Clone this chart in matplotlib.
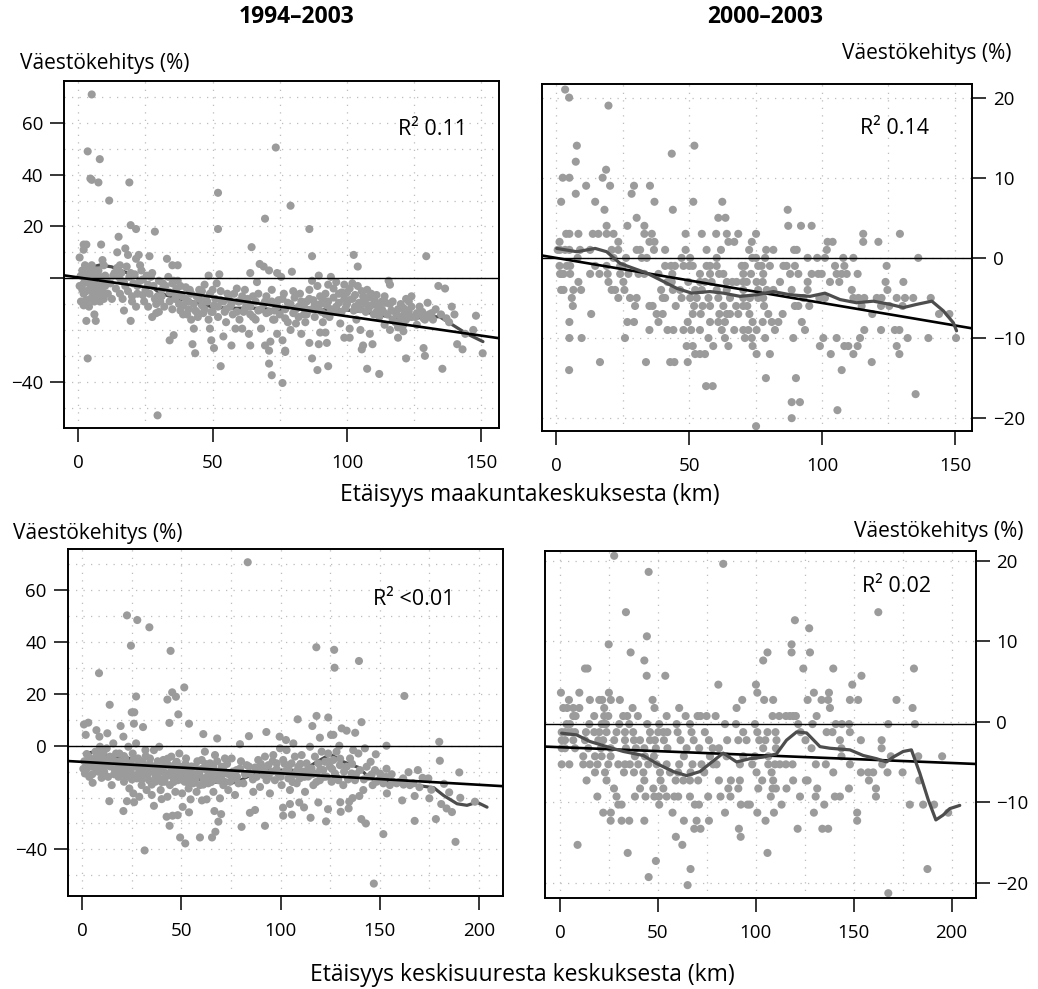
import numpy as np
import matplotlib
matplotlib.use("Agg")
import matplotlib.pyplot as plt

plt.rcParams['font.family'] = ['Open Sans', 'DejaVu Sans']

# ---------------- DATA ----------------
titles = ["1994–2003", "2000–2003"]
ylabel = "Väestökehitys (%)"
xlabel_top = "Etäisyys maakuntakeskuksesta (km)"
xlabel_bottom = "Etäisyys keskisuuresta keskuksesta (km)"
r2_labels = ["R² 0.11", "R² 0.14", "R² <0.01", "R² 0.02"]

# Panel 1: distance to regional centre vs. population change 1994-2003
p1_points = [
    (5, 71), (3.5, 49), (8, 46), (4.5, 38.5), (5, 38), (7.5, 37), (11.5, 30), (19, 37),
    (19.5, 20.5), (21.5, 19), (28.5, 18), (15, 16), (52, 33), (52, 19), (73.5, 50.5),
    (69.5, 23), (79, 28), (86, 19), (87, 8.5), (64.5, 12), (102.5, 9), (104, 4.5),
    (129.5, 8.5), (2, 13), (3, 13), (2, 11), (8.5, 13), (0.5, 8), (14.5, 10), (17.5, 11.5),
    (18.5, 9), (22.5, 9), (21.5, 7.5), (26.5, 8.5), (9, 7), (9.5, 5), (33, 7.5), (35, 5),
    (37, 5), (15.5, 5), (3.5, -31), (3, -16.5), (6.5, -16.5), (6, -14), (17, -12.5),
    (19.5, -16.5), (29.5, -53), (53, -34), (71, -33), (72, -37.5), (76, -40.5), (77, -28.5),
    (87, -31), (89, -35.5), (93, -34), (107.5, -35), (112, -37), (122, -31), (135.5, -35),
    (150.5, -29), (143, -27.5), (141, -25.5), (148, -14.5), (139, -11), (128.5, -27),
    (129, -30), (106, -26), (105.5, -27.5), (109.5, -25.5), (99, -23), (101, -23),
    (92.5, -25), (89.5, -25.5), (86, -25), (43.5, -29), (42.5, -25.5), (49.5, -24),
    (50.5, -27), (34, -24), (35.5, -22), (64, -26), (69.5, -26), (71, -28), (77, -28),
    (90, -21), (92, -21), (121, -20.5), (119, -23),
    (1, -9), (1.5, -4.5), (2, -6), (2.5, -0.5), (3, 2.5), (3.5, 0.5), (4, -2), (4, 4),
    (4.5, 2), (5, 5), (5.5, -3), (5.5, -6), (6, -9), (7, 0.5), (7.5, -6), (8, -3),
    (8.5, -6.5), (2.5, -9), (2, -10.5), (3, -8.5), (4.5, -8), (6, -4.5), (6.5, 3),
    (7.5, 1), (9.5, -2), (10, -3), (10.5, -0.5),
    (13, 1), (14.5, 4), (15, 0.5), (16, 2), (16.5, -8), (17, -1.5), (18, 4.5), (19, 0.5),
    (20, -7), (20.5, -2), (21, 1.5), (21.5, -11), (22, -3), (23, 5), (23.5, 3), (24, -0.5),
    (24, -6.5), (25, -4.5), (26, -11), (26, -2.5), (27, 0.5), (27.5, 2), (28.5, -8),
    (27.5, -15), (29, -13.5), (30, -13), (31, -4.5), (31.5, -2), (29.5, -7), (30.5, -9),
    (33.5, 0.5), (34, -5.5), (35, -2), (35.5, -1), (36, -8), (36.5, -4), (37, -1),
    (38, -12.5), (38.5, -7), (39, -10.5), (40, -3.5), (40.5, -14), (41, -9), (41.5, -4.5),
    (42, -16), (43, -19.5), (43.5, -12.5), (44, -7), (44.5, -15), (45, -4.5), (46, -10.5),
    (46.5, -13.5), (47, -2.5), (47.5, -8.5), (48.5, -16), (49, -19.5), (49.5, -13),
    (48.5, 1), (50, -4.5), (50.5, -10.5), (51.5, -2), (52, -15), (52.5, 1.5), (53, -8.5),
    (54, -22.5), (54.5, -13), (55, -17), (55.5, -6), (56.5, -11), (57, -26), (57.5, -14),
    (58.5, -19.5), (59, -4), (59.5, -9), (60, -16), (61, -19.5), (61.5, -13), (62, -4.5),
    (62.5, -10.5), (63.5, -21.5), (64, -14), (64, 2), (65, -7), (66, -16), (66.5, -1.5),
    (67, -12.5), (67.5, 5.5), (68, -19.5), (69, 4.5), (69.5, -9), (70, -13.5), (71, 3),
    (71.5, -24.5), (72, -4.5), (72.5, -16), (73, -12.5), (74, -21.5), (74, 2), (74.5, -8.5),
    (75.5, 0.5), (76, -24), (76.5, -6), (77, -15.5), (78, -9.5), (79, -20), (79.5, 2.5),
    (80, -13.5), (80.5, -7.5), (81, -17.5), (82, -11), (82.5, -6), (83, -21.5), (84, -14),
    (84.5, -17), (85, -9), (85.5, -12.5), (86, -4.5), (87, -1), (87.5, -8.5), (88, -15),
    (89, -3), (89.5, 1), (90, -7), (90.5, -13), (91, -17), (92, -6), (92.5, -10.5),
    (93, -2.5), (93.5, -15), (94, 0.5), (95, -7.5), (95.5, -13), (96, -1.5), (97, -9.5),
    (97.5, -17.5), (98, -5.5), (99, -2.5), (99.5, -11.5),
    (100, -5.5), (100.5, -8.5), (101, -19.5), (102, -2), (102.5, -12.5), (103, -6.5),
    (103.5, -16), (104.5, -9.5), (105, -20), (105.5, -5), (106, -9), (107, -13),
    (107.5, -4.5), (108, -7.5), (108.5, -21.5), (109, -10.5), (110, -14), (110.5, -9),
    (111, -6.5), (111.5, -11), (112, -15), (113, -9), (113.5, -13), (114, -18),
    (114.5, -9.5), (115.5, -1), (116, -2.5), (116, -20), (116.5, -12.5), (117, -16),
    (118, -13), (118.5, -14), (119, -19), (119.5, -17.5), (120, -15), (121, -11.5),
    (121.5, -13.5), (122, -16), (122.5, -12.5), (123, -9), (124, -7), (124, -11),
    (125.5, -15), (126, -13.5), (127, -14), (128.5, -15.5), (130, -9.5), (130.5, -14),
    (131.5, -13.5), (132, -16), (134, -3), (136.5, -4), (137, -15.5), (140, -14),
    (144, -21.5), (147, -20),
    # denser core of the cloud
    (0.5, -3), (1, 1), (1.5, 3), (2, -2), (2.5, 5), (3, -5), (3.5, 3), (4, -11), (4.5, -4),
    (5, 0), (5.5, 2), (6, -1), (6.5, -7), (7, -3), (7.5, 3), (8, -9), (8.5, 0), (9, -5),
    (9.5, -8), (10, 1), (11, -6), (12, -2), (12.5, -8), (13.5, 2), (14, -4), (15.5, -6),
    (16, -1), (17.5, -3), (18.5, -5), (19.5, 2), (20, -9), (22, -6), (23, -1), (24.5, -9),
    (25.5, 1), (26.5, -6), (28, -3), (29, -10), (30, -1), (31, -7), (32, -11), (32.5, -3),
    (34, -9), (35, -12), (36, -6), (37.5, -10), (38, -3), (39, -14), (40, -8), (41, -12),
    (42, -6), (43, -10), (44, -13), (45, -8), (46, -5), (47, -12), (48, -9), (49, -6),
    (50, -13), (51, -8), (52, -11), (53, -5), (54, -9), (55, -12), (56, -8), (57, -10),
    (58, -6), (59, -13), (60, -9), (61, -7), (62, -12), (63, -8), (64, -11), (65, -15),
    (66, -9), (67, -6), (68, -12), (69, -10), (70, -7), (71, -13), (72, -9), (73, -16),
    (74, -11), (75, -14), (76, -8), (77, -12), (78, -17), (79, -10), (80, -5), (81, -12),
    (82, -15), (83, -9), (84, -11), (85, -14), (86, -8), (87, -12), (88, -10), (89, -11),
    (90, -10), (91, -8), (92, -14), (93, -9), (94, -12), (95, -4), (96, -11), (97, -6),
    (98, -13), (99, -8), (100, -10), (101, -4), (102, -8), (103, -11), (104, -3), (105, -12),
    (106, -7), (107, -10), (108, -12), (109, -6), (110, -8), (111, -13), (112, -10),
    (113, -12), (114, -7), (115, -14), (116, -10), (117, -9), (118, -17), (119, -12),
    (120, -10), (121, -18), (122, -8), (123, -13), (124, -15), (126, -18), (127, -11),
    (128, -13), (129, -16), (131, -15), (133, -12), (135, -14), (138, -17),
]
p1_loess_x = [0, 4, 8, 12.4, 18.6, 24.8, 30.4, 36.6, 42.8, 49.6, 55.2, 61.4, 67.6, 73.8, 80,
              86.2, 93, 99.8, 106, 112.2, 118.4, 124.6, 130.8, 134.5, 139.4, 144.3, 150.6]
p1_loess_y = [1.0, 4.0, 5.1, 4.4, 1.9, -1.3, -5.8, -7.8, -9.1, -11, -11.6, -11.6, -11.6, -12.3,
              -11, -11.6, -12.3, -12.3, -12.9, -14.2, -15.5, -15.5, -14.9, -14.9, -18.1, -21.3,
              -24.5]
p1_fit = (0.3, -0.150)   # intercept, slope

# Panel 2: distance to regional centre vs. population change 2000-2003 (integer-valued rows)
p2_rows = {
    21: [3.4], 20: [4.9], 19: [19.7], 14: [7.8, 52], 13: [43.5], 12: [7.4],
    11: [18.8], 10: [2.5, 5, 17.5], 9: [11.3, 20.3, 29.3, 35.3], 8: [7.4, 28.4],
    7: [1.9, 14.7, 37, 51.6, 62.5], 6: [18.2, 43.9, 87.1], 5: [30.3, 61, 63.7],
    4: [26.8, 19, 33.2, 87.3, 92.1, 96.1],
    3: [3.8, 5, 8.4, 13.8, 15.9, 19, 21.6, 33.2, 36, 48.7, 54.8, 60.2, 64.2, 68.5, 75.2,
        115.5, 129.3],
    2: [1.3, 23.4, 35.1, 37, 64.8, 67, 73.6, 102.1, 104, 115.5, 121.2],
    1: [0.6, 1.5, 3.4, 5, 9, 12.8, 20.9, 23.4, 30.3, 31.6, 36.8, 41, 48.7, 56.6, 62, 72.6,
        79, 81.7, 89.5, 90.5, 101.8],
    0: [8.1, 21.6, 26.3, 32.2, 34.1, 47.2, 50.4, 60.4, 73.8, 75.2, 78.6, 94.6, 98.2, 101.1,
        108, 111.8, 136.2],
    -1: [1.3, 4, 5.3, 14.7, 19, 24.1, 25.1, 41, 43.2, 44.7, 47.9, 50.1, 51.4, 56.6, 57.9,
         60.4, 69.8, 71, 76, 77.3, 80.4, 85.5, 86.7, 89.8, 104.9, 108.4, 124.3],
    -2: [1.5, 2.1, 2.8, 5.3, 12.8, 16.3, 19.4, 24.1, 27.2, 31, 33.2, 38.5, 43.7, 54.1, 57.9,
         61.3, 62.9, 70.4, 73.3, 77.9, 88, 91.1, 96.1, 98.6, 99.9, 105.5, 107.4, 109.3, 113.4],
    -3: [8.4, 19.7, 25.3, 41.9, 43.5, 49.7, 54.1, 56, 58.5, 64.2, 66.3, 67.9, 70.4, 71.7,
         75.4, 77.7, 84.2, 94.6, 103, 106.5, 123.9, 130.6],
    -4: [1.9, 2.8, 6.5, 9.4, 20.9, 22.2, 25.7, 39.5, 43.9, 46.6, 52.3, 54.8, 60.4, 64.2,
         70.4, 76, 79.2, 81.7, 88.6, 94.6, 111.2, 124.6],
    -5: [5.9, 23.4, 27.8, 30.3, 40.1, 41, 47.2, 50.4, 52.9, 57.3, 61, 65.4, 70.4, 72.9, 76,
         77.9, 93, 99, 101.1, 111.8, 113.7, 115.9, 120.6, 122.4, 128.1, 131.2, 134.3, 140.9],
    -6: [6.3, 29.7, 35.1, 36.3, 45, 51.9, 55.1, 57.9, 62.9, 67.7, 70.4, 71.9, 78.2, 89.8,
         91.1, 95.2, 114.9, 122.2, 125.3, 130.3],
    -7: [13.2, 37.8, 40.1, 51.4, 54.4, 61.4, 64.2, 65.4, 68.5, 72.7, 79.8, 85.2, 118.9, 144,
         147.9],
    -8: [5, 26.8, 29.3, 38.5, 49.5, 57.9, 61, 63.5, 73.9, 77.7, 81.1, 83.6, 92.4],
    -9: [35.1, 41.9, 44.1, 47.9, 50.8, 54.1, 62.3, 67, 70.4, 72.3, 75.4, 82.3, 93.6, 115.9,
         122.2, 127.4, 129.1],
    -10: [5, 9.6, 25.9, 57.3, 63.5, 71, 73.6, 78.6, 89.2, 100.5, 105.5, 114.3, 132.2, 140,
          150.4],
    -11: [49.1, 51.4, 59.1, 64.8, 73.9, 99.2, 108.4, 109.9, 113.4, 128.1],
    -12: [52.3, 54.1, 56, 75.4, 80.4, 103.3, 111.8, 129.1],
    -13: [16.5, 33.8, 42.9, 44.5, 49.5, 118.7],
    -14: [4.9, 107.4], -15: [78.9, 90.2], -16: [56.4, 58.9], -17: [135.2],
    -18: [88.6, 91.7], -19: [105.8], -20: [88.6], -21: [75.2],
}
p2_loess_x = [0.25, 7.8, 14.7, 19.0, 24.1, 29.1, 34.1, 40.4, 45.4, 51, 57.9, 62.9, 69.2, 75.5,
              81.7, 88, 95.5, 101.1, 106.8, 113, 119.3, 125.6, 130.6, 135.6, 141.3, 145.6,
              149.4, 150.6]
p2_loess_y = [1.18, 0.77, 1.18, 0.77, -0.7, -1.3, -1.9, -2.95, -3.8, -4.4, -4.2, -4.4, -4.8,
              -4.6, -4.2, -4.6, -4.8, -4.4, -5.2, -5.6, -5.4, -5.8, -6.2, -5.8, -5.4, -6.6,
              -8.1, -9.1]
p2_fit = (0.0, -0.0562)

# Panel 3: distance to medium-sized centre vs. population change 1994-2003
p3_points = [
    (83.4, 70.8), (22.5, 50.3), (27.7, 48.5), (33.8, 45.7), (24.5, 38.6), (44.5, 36.6),
    (8.4, 28), (118, 38), (127, 37), (127.2, 30.1), (139.5, 32.7), (162.4, 19.2),
    (13.8, 15.8), (27.1, 19), (42.9, 17.8), (45.3, 20.6), (47.2, 18.9), (51.4, 22.5),
    (48.4, 12.1), (24.9, 12.9), (26.2, 12.9), (108.6, 10.2), (118.1, 11.5), (124, 10.9),
    (140.8, 9.1), (130.8, 6.7), (133.3, 5.8), (137.6, 5), (116, 7.6), (53.8, 8.5),
    (43.9, 8.8), (26, 8.5), (30.6, 7.2), (19.3, 7.6), (0.8, 8.2), (3, 8.9), (1.7, 4.2),
    (7.1, 6), (8.6, 3.5), (12.6, 4.8), (61, 4.5), (84, 3.7), (92.8, 5.3), (99.5, 3.5),
    (125.4, 4.2), (126.6, 4.2), (180, 1.5), (153.4, 0), (148, -3.3), (68, 2.8), (79.5, 0.6),
    (102.7, 2.2), (106.4, 0.9), (119.8, 3.1), (129.6, 0),
    (31.4, -40.4), (51.9, -37.7), (49.3, -35.4), (59.3, -35.4), (65.4, -35.4), (67.1, -33.2),
    (80.3, -31.3), (44, -30.9), (92.1, -30.9), (151.8, -34.1), (188.2, -37.1), (147, -53.2),
    (178.3, -28.3), (167.6, -29), (122.9, -29.2), (140.7, -28.3), (143, -30), (101.3, -27),
    (105.7, -26.6), (115.1, -27.8), (130.3, -25.5), (134.3, -24.2), (53.8, -25.7),
    (42.5, -27.4), (45.5, -27), (48.1, -26.8), (68.6, -29.3), (70, -26.4), (66.6, -25.2),
    (84.5, -25.9), (87.1, -24.8), (20.7, -25.2), (13.6, -21.4), (22.5, -21.4), (26.1, -21.8),
    (36.1, -23.2), (40, -20.6), (50.6, -23.6), (54.6, -20.7), (62.7, -20.7), (60.3, -21.1),
    (101.2, -23.9), (104.7, -22.5), (109.4, -21.9), (111.8, -23.8), (123.9, -24.5),
    (119, -21.9), (130.1, -21.8), (134.6, -21.6), (136.3, -20.2), (139.7, -19.4),
    (153.6, -18.4), (161.3, -21.1), (167.6, -19.4), (175, -20.3), (181, -22.5),
    (183.7, -24.2), (186.4, -25.6), (190.6, -20.1), (198, -21.6), (190.1, -10.3),
    (180.3, -5.8), (174.5, -12.6), (169.2, -9.4), (171.6, -12.4), (164.5, -10.2),
    (153.4, -8.9), (182.4, -14.7),
    (0.5, -8.9), (1.3, -10.7), (2.2, -3.2), (2.5, -6.6), (3.5, -12), (4.2, -5.3),
    (5.2, -14.3), (5.9, -8.1), (6.6, -2.3), (7.2, -9.4), (8.1, -5.8), (8.9, -0.4),
    (8.9, -4.2), (9.4, -7.2), (9.7, -12.4),
    (10.6, -2.7), (11.4, -5.5), (12.3, -1), (12.9, -7.5), (13.9, -4.2), (14.8, -15.2),
    (15.6, 0.9), (16.5, -9.4), (17.3, -6.2), (18.2, -12), (18.7, -3), (19.3, -10.7),
    (20, -7.5), (20.7, 3.5), (21, -13.9), (21.7, -4.9), (22.4, -9.4), (23.2, -0.4),
    (23.7, -16.5), (24, -6.8), (24.7, -10.7), (25.4, -3), (25.7, -18.4), (26.4, -8.1),
    (27.1, 0.9), (27.4, -12.6), (28.1, -4.9), (28.7, -19.7), (29.1, -9.4),
    (29.9, -15.2), (30.4, -6.2), (31.1, -11.3), (31.8, -1.7), (32.4, -17.1), (32.9, -8.8),
    (33.6, -13.3), (34.1, -4.9), (35, -19), (35.5, -10), (36.1, -1.7), (36.8, -13.9),
    (37.5, -7.5), (38.2, -12), (38.8, -0.4), (39.5, -17.1), (40.2, -9.4), (40.8, -5.5),
    (41.5, -13.9), (42.2, -10.7), (42.9, -19.7), (43.5, -7.5), (44.2, -15.2), (44.9, -4.2),
    (45.5, -12), (46.2, -9.4), (46.9, -17.8), (47.6, -6.2), (48.2, -13.3), (48.9, -3),
    (49.6, -10.7), (50.3, -18.4),
    (50.9, -8.1), (51.6, -13.9), (52.3, -4.9), (52.9, -11.3), (53.6, -16.5), (54.3, -9.4),
    (55.1, -12.6), (56, -14.5), (56.8, -8.1), (57.6, -17.8), (58.5, -10.7), (59.3, -15.2),
    (60.2, -5.5), (61, -12.6), (61.8, -2.3), (62.7, -9.4), (63.5, -14.5), (64.4, -6.8),
    (65.2, -12), (66.1, -17.8), (66.9, -3.6), (67.7, -10), (68.6, -13.3), (69.4, -20.3),
    (70.3, -8.1), (71.1, -15.2), (71.9, -4.9), (72.8, -10.7), (73.6, -17.1), (74.5, -13.9),
    (75.3, -4.9),
    (76.1, -12.6), (77, -19), (77.8, -9.4), (78.7, -14.5), (79.5, -8.8), (81.2, -14.5),
    (82.9, -7.5), (84.5, -10.7), (86.2, -17.8), (87.1, -8.4), (87.9, -12), (88.7, -5.5),
    (89.6, -15.9), (90.4, -8.1), (91.3, -11.3), (92.1, -4.2), (92.9, -13.3), (93.8, -7.5),
    (94.6, -18.4), (95.5, -10), (96.3, -3.6), (97.1, -13.3), (98, -6.8), (98.8, -10.7),
    (99.7, -1), (100.5, -15.2),
    (101.3, -5.5), (102.2, -10), (103, -1.7), (103.9, -12.6), (104.7, -17.1), (105.5, -6.8),
    (106.4, -11.3), (107.2, -4.2), (108.1, -14.5), (108.9, -8.1), (109.7, -12.6),
    (110.6, -3.6), (111.4, -10), (112.3, -17.8), (113.1, -6.8), (113.9, -11.9),
    (114.8, -0.4), (115.6, -8.8), (116.5, -15.2), (117.3, -4.2), (118.2, -10.7),
    (119, -6.8), (119.8, -13.3), (120.7, -2.3), (121.5, -9.4), (122.4, -6.2), (123.2, -11.9),
    (124, -3), (124.9, -8.1),
    (125.7, -13.9), (126.6, -5.5), (127.4, -10.7), (128.2, -2.3), (129.1, -13.3),
    (129.9, -7.5), (131.6, -15.2), (133.3, -8.1), (135, -4.9), (135.8, -10.7), (136.6, -1.7),
    (137.5, -13.3), (139.2, -3), (140, -9.4), (141.7, -17.1), (142.5, -1), (143.4, -8.1),
    (144.2, -12), (145.4, -6.2), (146.4, -15.2), (147.6, -9.4), (148.4, -13.9),
    (150.1, -10.7), (151.8, -14.5), (153.1, -12), (155.1, -15.2), (156.5, -13.9),
    (158.5, -14.5), (160.2, -13.9), (161.8, -12.6), (165.2, -15.2), (166.9, -14.5),
    # denser core of the cloud
    (1, -6), (2, -9), (3, -4), (4, -8), (5, -11), (6, -5), (7, -7), (8, -10), (9, -3),
    (10, -8), (11, -10), (12, -6), (13, -12), (14, -8), (15, -5), (16, -11), (17, -3),
    (18, -8), (19, -6), (20, -10), (21, -4), (22, -12), (23, -7), (24, -9), (25, -13),
    (26, -5), (27, -8), (28, -11), (29, -6), (30, -13), (31, -9), (32, -4), (33, -11),
    (34, -7), (35, -15), (36, -9), (37, -12), (38, -6), (39, -10), (40, -14), (41, -8),
    (42, -12), (43, -5), (44, -11), (45, -9), (46, -14), (47, -7), (48, -11), (49, -8),
    (50, -13), (51, -10), (52, -7), (53, -14), (54, -12), (55, -8), (56, -11), (57, -13),
    (58, -6), (59, -11), (60, -9), (61, -15), (62, -7), (63, -12), (64, -10), (65, -14),
    (66, -8), (67, -13), (68, -6), (69, -11), (70, -12), (71, -9), (72, -14), (73, -7),
    (74, -11), (76, -10), (78, -12), (80, -6), (82, -11), (84, -8), (86, -13), (88, -9),
    (90, -7), (92, -10), (94, -12), (96, -6), (98, -9), (100, -12), (102, -7), (104, -9),
    (106, -14), (108, -10), (110, -7), (112, -12), (114, -9), (116, -11), (118, -14),
    (120, -9), (122, -12), (124, -6), (126, -9), (128, -12), (130, -5), (132, -10),
    (134, -13), (136, -7), (138, -11), (142, -13), (146, -11), (150, -13), (156, -11),
    (162, -15), (170, -16), (176, -17), (185, -18),
]
p3_loess_x = [1.4, 7.2, 13.9, 24, 32.4, 40.8, 49.3, 57.7, 66.1, 74.5, 79.5, 86.3, 94.7, 103.1,
              111.5, 118.3, 125, 131.7, 139.3, 145.2, 153.6, 162, 168.8, 177.2, 182.2, 189,
              194, 199, 204.1]
p3_loess_y = [-2.9, -2.3, -4.2, -4.9, -7.5, -9.5, -11.4, -12.7, -14.0, -14.6, -13.4, -10.8,
              -9.5, -9.5, -9.5, -6.2, -3.3, -6.2, -8.4, -12.7, -14.0, -13.1, -15.3, -16.2,
              -19.2, -22.4, -23.0, -21.8, -23.7]
p3_fit = (-6.23, -0.0442)

# Panel 4: distance to medium-sized centre vs. population change 2000-2003 (rows)
p4_rows = {
    20.6: [27.7], 19.6: [83.4], 18.6: [45.3], 13.6: [162.6, 33.7], 12.6: [120],
    11.6: [127.3], 10.6: [44.4], 9.6: [24.9, 118.3], 8.6: [118.3, 36.1, 106, 127.7],
    7.6: [43.1, 103.8], 6.6: [12.8, 14.1, 124.3, 139.6, 180.8], 5.7: [44.3, 53.8, 154],
    4.6: [80.9, 100.1, 149.3],
    3.6: [0.5, 9.9, 25, 100.8, 129.7, 137.4],
    2.7: [4.6, 15.3, 20.1, 21.6, 26, 30.6, 47.3, 93.1, 104.3, 108.9, 126.5, 133.6, 137, 148.1,
          152.3, 171.9],
    1.7: [1.7, 3.7, 6.8, 9.9, 22.6, 37.1, 48.3, 60.9, 90.2, 137.9, 180.1],
    0.7: [6.8, 8, 17.5, 22.6, 24.7, 32.3, 34.4, 39.8, 54.5, 64.2, 70.3, 71.8, 74.9, 79.5,
          108.6, 112, 115.4, 117.4, 119.1, 120.5, 131.1],
    -0.3: [3.4, 5.1, 15, 21.3, 22.5, 23.5, 30.3, 35.4, 44.6, 50.7, 59.6, 66.4, 84.3, 89.9,
           99.6, 121.7, 129, 140.9, 144, 147.7, 167.7, 181.3],
    -1.3: [0.9, 2.6, 4.3, 6, 7.7, 13.3, 17.5, 20.1, 23.8, 28.9, 33.2, 37.4, 46, 50.2, 52.8,
           54.9, 60.1, 67.2, 74, 93.6, 100.8, 106, 110.1, 122.9, 136.2, 139.2, 148.1],
    -2.3: [0.9, 2.6, 6.8, 12.8, 19.6, 22.1, 27.7, 33.2, 37.8, 40.9, 46, 48.5, 53.1, 61.6,
           68.3, 76.1, 85.4, 91.1, 95.3, 101.8, 104.9, 110.6, 125.4, 143, 153.7, 164.3],
    -3.3: [0.9, 2.6, 7.7, 14.5, 20.9, 25.9, 33.7, 38.8, 43.1, 49, 54.9, 64.7, 71.1, 78, 81.2,
           103.8, 110.3, 128.5, 143.8, 164.3],
    -4.3: [11.9, 17.9, 21.3, 25.9, 38.3, 43.4, 48, 63.3, 76.6, 85.1, 93.6, 99.6, 106.4, 143.8,
           169, 183, 195.2],
    -5.3: [0.9, 4.8, 11.9, 15.3, 19.2, 24.7, 29.8, 33.2, 35.7, 40, 45.1, 49.4, 54.5, 60.9,
           67.7, 72.3, 78.3, 80, 91.9, 98.2, 106.4, 109.8, 112.3, 115.4, 118.8, 130.7, 135.8,
           148.1, 164.6],
    -6.3: [17.9, 23, 32.7, 37.8, 42.6, 51.1, 56.2, 60.4, 66.7, 73.7, 100.4, 108.1, 139.6,
           153.7, 157.4, 160, 167.3, 175],
    -7.3: [13.6, 23.8, 43.1, 51.4, 59.1, 63, 66.4, 70.6, 81.2, 87.3, 91.9, 103.3, 108.9,
           119.1, 125.6, 126.5, 157.8, 183.5],
    -8.3: [27.6, 40.9, 47.7, 52.8, 86, 91.1, 101.3, 108.6, 110.3, 115.7, 131.4, 147.6, 161.4],
    -9.3: [19.1, 28.9, 38.3, 43.7, 48.2, 50.6, 54.5, 58.4, 60.4, 66.4, 75.7, 82, 87.1, 107.7,
           122.6, 130.6, 140.4, 143, 161.4],
    -10.3: [29.8, 31.5, 50.7, 68.9, 71, 92.4, 95.8, 97, 113.2, 135, 178.7, 185.5, 191.1],
    -11.3: [22.1, 26, 57.5, 84.3, 100.8, 109.3, 129.7, 151.8, 198.3],
    -12.3: [25.9, 31.5, 35.4, 43.1, 63.3, 69.8, 76.1, 105, 151.8],
    -13.3: [68.6, 71.8, 91.4, 121.4, 134, 137],
    -14.3: [59.2, 92.3], -15.3: [9, 62.5], -16.3: [34.6, 106], -17.3: [49],
    -18.3: [66.7, 187.7], -19.3: [45.3], -20.3: [65.2], -21.3: [167.7],
}
p4_loess_x = [0.85, 8.5, 15.3, 23.9, 32.4, 42.6, 49.4, 57.9, 64.7, 71.5, 76.6, 83.4, 90.2, 97,
              103.8, 110.6, 115.7, 120.9, 126, 132.8, 137.9, 148.1, 154.9, 161.7, 166.8,
              170.2, 175.3, 179.5, 183.8, 188.1, 192, 195.7, 199.1, 204.2]
p4_loess_y = [-1.43, -1.64, -2.46, -3.1, -3.7, -4.2, -5.2, -6.2, -6.7, -6.2, -5.2, -3.9, -5.0,
              -4.6, -4.4, -4.0, -2.3, -1.27, -1.4, -3.1, -3.3, -3.5, -4.2, -4.6, -5.0, -4.4,
              -3.7, -3.5, -6.4, -9.7, -12.2, -11.6, -10.8, -10.4]
p4_fit = (-3.17, -0.0098)
p4_refline = -0.3

# ---------------- STYLE / LAYOUT ----------------
PT_COLOR = '#9b9b9b'
LOESS_COLOR = '#4d4d4d'
FS_TICK = 13.5
FS_LAB = 15

fig = plt.figure(figsize=(10.38, 9.89), dpi=100)

axes_rects = [
    [0.0617, 0.5672, 0.4191, 0.3509],
    [0.5219, 0.5642, 0.4145, 0.3509],
    [0.0652, 0.0940, 0.4191, 0.3506],
    [0.5253, 0.0920, 0.4146, 0.3509],
]
xlims = [(-5.3, 156.6), (-5.4, 156.4), (-7.4, 212.0), (-7.5, 212.3)]
ylims = [(-57.9, 76.2), (-21.6, 21.7), (-58.0, 75.8), (-21.9, 21.2)]
xticks = [[0, 50, 100, 150], [0, 50, 100, 150], [0, 50, 100, 150, 200], [0, 50, 100, 150, 200]]
xgrid = [np.arange(0, 151, 25), np.arange(0, 151, 25), np.arange(0, 201, 25), np.arange(0, 201, 25)]
ygrid = [np.arange(-50, 71, 10), np.arange(-20, 21, 10), np.arange(-50, 71, 10), np.arange(-20, 21, 10)]
yticks = [[60, 40, 20, 0, -40], [20, 10, 0, -10, -20], [60, 40, 20, 0, -40], [20, 10, 0, -10, -20]]
yticklabels = [['60', '40', '20', '', '−40'], ['20', '10', '0', '−10', '−20'],
               ['60', '40', '20', '0', '−40'], ['20', '10', '0', '−10', '−20']]
right_side = [False, True, False, True]
loess_under_points = [True, False, True, False]
r2_pos = [(0.768, 0.859), (0.740, 0.873), (0.702, 0.854), (0.736, 0.899)]


def rows_to_xy(rows):
    xs, ys = [], []
    for yv, xl in rows.items():
        for xv in xl:
            xs.append(xv)
            ys.append(yv)
    return np.array(xs), np.array(ys)


p1x, p1y = np.array(p1_points).T
p2x, p2y = rows_to_xy(p2_rows)
p3x, p3y = np.array(p3_points).T
p4x, p4y = rows_to_xy(p4_rows)
scatters = [(p1x, p1y), (p2x, p2y), (p3x, p3y), (p4x, p4y)]
loess = [(p1_loess_x, p1_loess_y), (p2_loess_x, p2_loess_y),
         (p3_loess_x, p3_loess_y), (p4_loess_x, p4_loess_y)]
fits = [p1_fit, p2_fit, p3_fit, p4_fit]
reflines = [0, 0, 0, p4_refline]

for i in range(4):
    ax = fig.add_axes(axes_rects[i])
    ax.set_xlim(*xlims[i])
    ax.set_ylim(*ylims[i])
    for g in xgrid[i]:
        ax.axvline(g, color='#bdbdbd', lw=0.9, ls=(0, (1, 5)), zorder=0)
    for g in ygrid[i]:
        ax.axhline(g, color='#bdbdbd', lw=0.9, ls=(0, (1, 5)), zorder=0)
    sx, sy = scatters[i]
    ax.scatter(sx, sy, s=34, color=PT_COLOR, edgecolors='none', zorder=2)
    ax.axhline(reflines[i], color='black', lw=1.0, zorder=3)
    b0, b1 = fits[i]
    xx = np.array(xlims[i])
    ax.plot(xx, b0 + b1 * xx, color='black', lw=1.9, zorder=4, solid_capstyle='butt')
    lx, ly = loess[i]
    ax.plot(lx, ly, color=LOESS_COLOR, lw=2.3,
            zorder=1.5 if loess_under_points[i] else 5, solid_capstyle='round')
    ax.set_xticks(xticks[i])
    ax.set_xticklabels([str(t) for t in xticks[i]])
    ax.set_yticks(yticks[i])
    ax.set_yticklabels(yticklabels[i])
    if right_side[i]:
        ax.yaxis.tick_right()
    ax.tick_params(axis='both', length=10, width=1.1, labelsize=FS_TICK, color='black')
    ax.tick_params(axis='x', pad=9)
    ax.tick_params(axis='y', pad=5)
    for sp in ax.spines.values():
        sp.set_linewidth(1.4)
    ax.text(r2_pos[i][0], r2_pos[i][1], r2_labels[i], transform=ax.transAxes,
            ha='left', va='center', fontsize=15.5)

W, H = 1038.0, 989.0
fig.text(297 / W, 1 - 17 / H, titles[0], ha='center', va='center', fontsize=16.5, fontweight='bold')
fig.text(765 / W, 1 - 17 / H, titles[1], ha='center', va='center', fontsize=16.5, fontweight='bold')
fig.text(20 / W, 1 - 63 / H, ylabel, ha='left', va='center', fontsize=FS_LAB)
fig.text(1011.7 / W, 1 - 53 / H, ylabel, ha='right', va='center', fontsize=FS_LAB)
fig.text(12.7 / W, 1 - 533 / H, ylabel, ha='left', va='center', fontsize=FS_LAB)
fig.text(1023 / W, 1 - 532 / H, ylabel, ha='right', va='center', fontsize=FS_LAB)
fig.text(530 / W, 1 - 495 / H, xlabel_top, ha='center', va='center', fontsize=16.5)
fig.text(522.5 / W, 1 - 975 / H, xlabel_bottom, ha='center', va='center', fontsize=16.5)

fig.savefig('out.png', dpi=100)
